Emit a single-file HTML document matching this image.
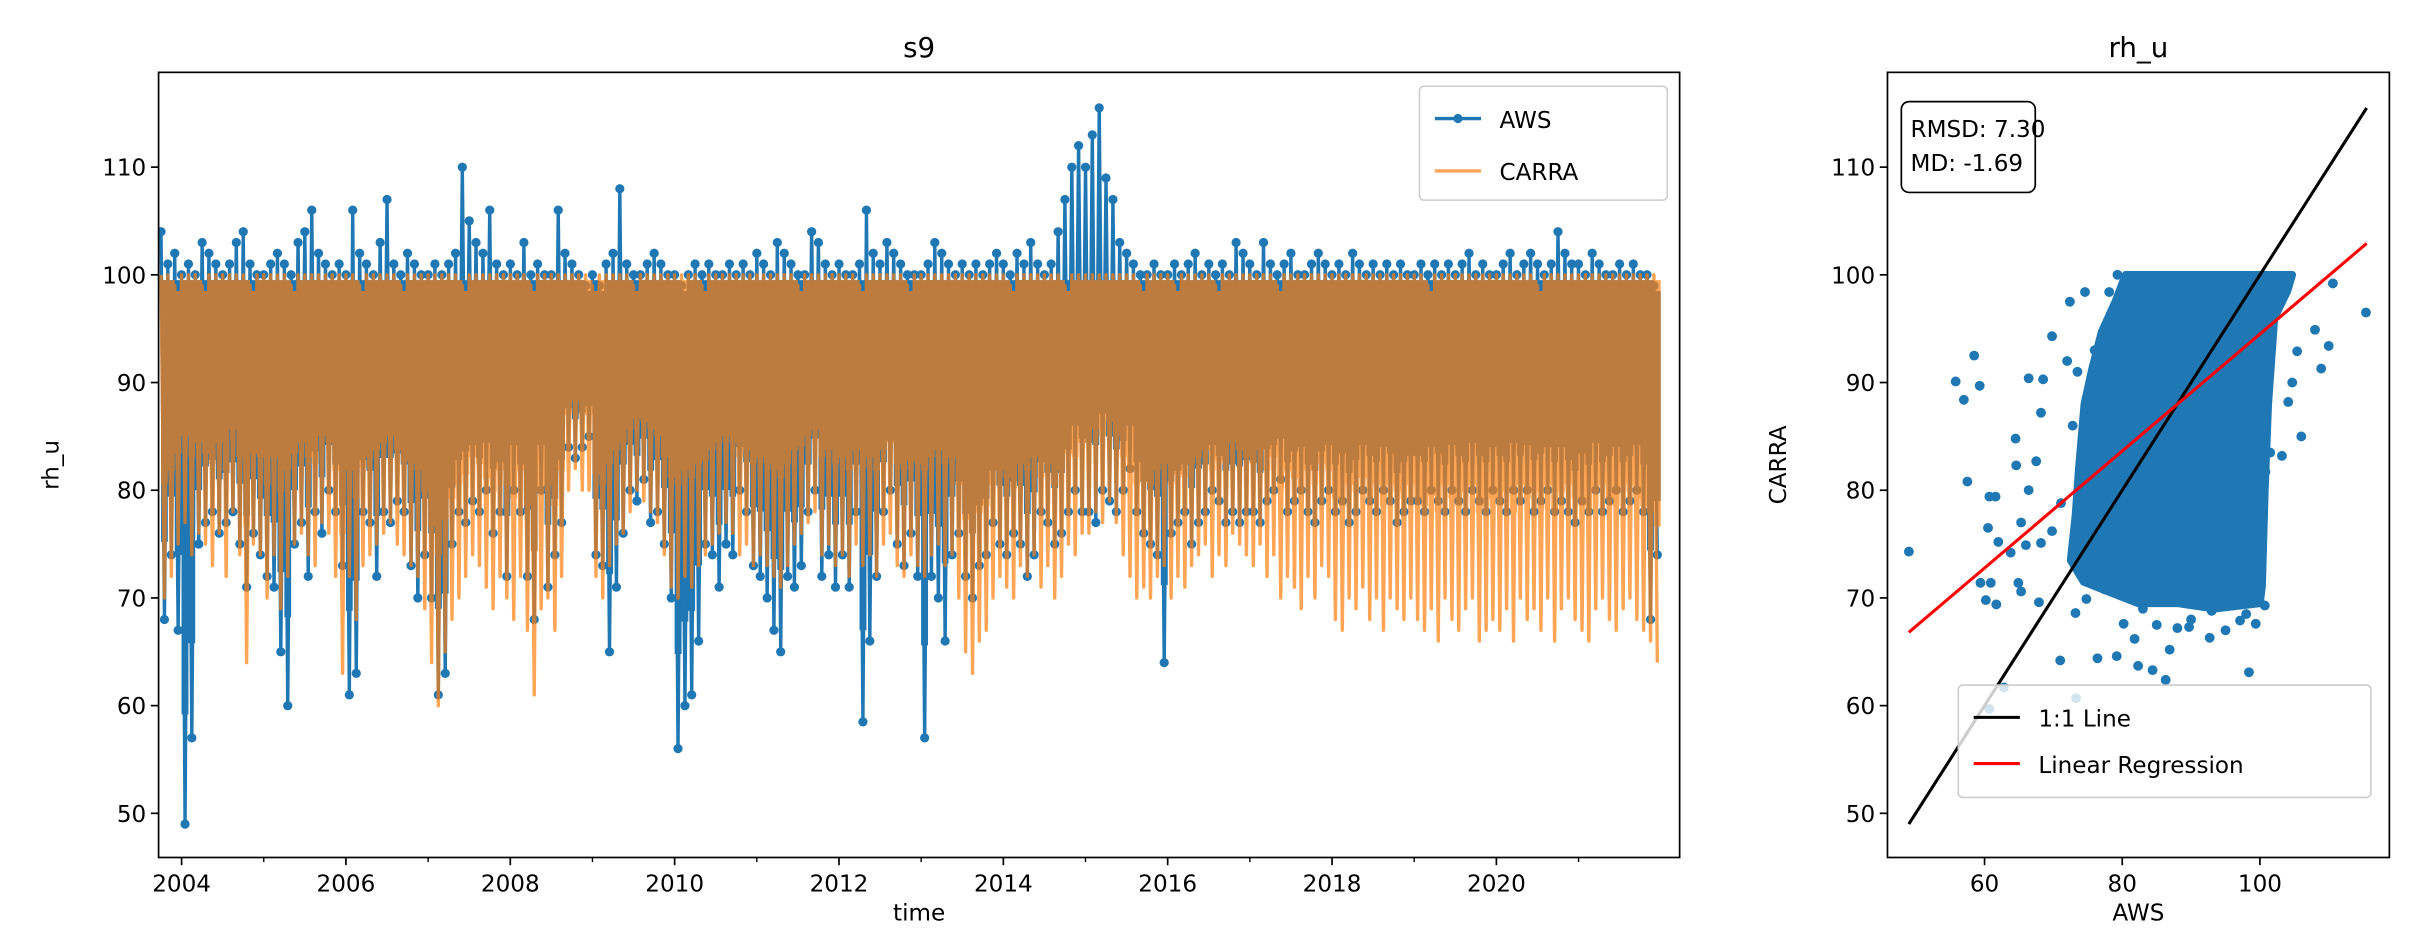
<!DOCTYPE html>
<html><head><meta charset="utf-8">
<style>
html,body{margin:0;padding:0;background:#fff;}
svg{display:block;font-family:"DejaVu Sans","Liberation Sans",sans-serif;}
</style></head>
<body>
<svg id="fig" width="2414" height="940" viewBox="0 0 1568 610.6" preserveAspectRatio="none" xmlns="http://www.w3.org/2000/svg">
<rect width="1568" height="611" fill="#fff"/>
<g id="left"></g>
<g id="right"></g>
</svg>
<script>
const years = [2003,2004,2005,2006,2007,2008,2009,2010,2011,2012,2013,2014,2015,2016,2017,2018,2019,2020,2021];
const startMonth = [10,1,1,1,1,1,1,1,1,1,1,1,1,1,1,1,1,1,1];
const awsHi = [
[104,101,102],
[100,101,100,103,102,101,100,101,103,104,101,100],
[100,101,102,101,100,103,104,106,102,101,100,101],
[100,106,102,101,100,103,107,101,100,102,101,100],
[100,101,100,101,102,110,105,103,102,106,101,100],
[101,100,103,100,101,100,100,106,102,101,100,99],
[100,99,101,102,108,101,100,100,101,102,101,100],
[100,99,100,101,100,101,100,100,101,100,101,100],
[102,101,100,103,102,101,100,100,104,103,101,100],
[101,100,100,101,106,102,101,103,102,101,100,100],
[100,101,103,102,101,100,101,100,101,100,101,102],
[101,100,102,101,103,101,100,101,104,107,110,112],
[110,113,115.5,109,107,103,102,101,100,100,101,100],
[100,101,100,101,102,100,101,100,101,100,103,102],
[101,100,103,101,100,101,102,100,100,101,102,101],
[100,101,100,102,101,100,101,100,101,100,101,100],
[100,101,100,101,100,101,100,101,102,100,101,100],
[100,101,102,100,101,102,101,100,101,104,102,101],
[101,100,102,101,100,100,101,100,101,100,100,99]];
const awsLo = [
[68,74,67],
[49,57,75,77,78,76,77,78,75,71,76,74],
[72,71,65,60,75,77,72,78,76,80,78,73],
[61,63,78,77,72,78,77,79,78,73,70,74],
[70,61,63,75,78,77,79,78,80,76,78,72],
[80,78,72,68,80,71,74,77,84,83,84,85],
[74,73,65,71,76,80,79,81,77,78,75,70],
[56,60,61,66,75,74,71,75,74,80,78,73],
[72,70,67,65,72,71,73,78,80,72,74,71],
[74,71,78,58.5,66,72,78,80,75,73,76,72],
[57,72,70,66,74,76,72,70,73,74,77,75],
[74,76,75,72,74,78,77,75,76,78,80,78],
[78,77,80,79,78,80,82,78,76,75,74,64],
[76,77,78,75,77,78,80,79,77,78,77,78],
[78,77,79,80,81,78,79,80,78,77,79,80],
[78,79,77,78,80,79,78,80,79,77,78,79],
[79,78,80,79,78,80,79,78,80,79,78,80],
[79,78,80,79,80,78,79,80,78,79,78,77],
[79,78,80,78,79,80,78,79,80,78,68,74]];
const carraHi = [
[100,100,99],
[100,100,100,99,100,100,100,100,100,100,99,100],
[100,100,100,100,99,100,100,100,100,100,100,100],
[100,100,99,100,100,100,100,100,99,100,100,100],
[100,100,100,100,100,99,100,100,100,100,100,100],
[100,100,100,99,100,100,100,100,100,100,100,100],
[99,100,100,100,100,100,99,100,100,100,100,100],
[100,100,100,100,99,100,100,100,100,100,100,100],
[100,100,100,100,100,100,99,100,100,100,100,100],
[100,100,100,99,100,100,100,100,100,100,99,100],
[100,100,100,100,100,100,100,100,100,100,100,100],
[100,99,100,100,100,100,100,100,100,99,100,100],
[100,100,100,100,100,100,100,100,99,100,100,100],
[100,99,100,100,100,100,100,99,100,100,100,100],
[100,100,100,100,99,100,100,100,100,100,100,100],
[100,100,100,100,100,100,100,100,100,100,100,100],
[100,100,99,100,100,100,100,100,100,100,100,100],
[100,100,100,100,100,100,99,100,100,100,100,100],
[100,100,100,100,100,100,100,100,100,100,100,100]];
const carraLo = [
[70,72,75],
[77,74,76,75,73,76,72,78,74,64,75,74],
[70,74,69,72,75,76,74,73,77,76,72,63],
[72,68,73,74,75,76,77,75,74,73,72,69],
[64,60,65,68,70,72,74,73,71,69,72,70],
[68,72,67,61,69,70,67,72,80,82,80,80],
[72,70,73,75,76,78,80,79,78,77,74,71],
[70,72,71,73,74,75,76,77,76,74,75,73],
[74,73,72,71,73,75,76,77,78,74,75,73],
[74,72,75,73,74,72,75,76,73,72,74,73],
[72,74,75,73,74,70,65,63,66,67,70,72],
[71,70,73,72,74,71,73,70,72,75,74,76],
[76,78,77,79,77,74,72,70,71,70,72,73],
[70,72,71,73,74,75,72,74,73,76,75,74],
[73,75,72,74,70,72,71,69,72,70,73,72],
[68,67,70,69,71,68,70,67,70,69,68,70],
[68,67,69,66,70,68,67,69,70,66,67,68],
[67,69,66,70,68,69,67,70,66,69,70,68],
[67,66,69,70,68,67,69,70,68,67,66,64]];
const yTicks = [50,60,70,80,90,100,110];
const xYearTicks = [2004,2006,2008,2010,2012,2014,2016,2018,2020];
const xMinorTicks = [2005,2007,2009,2011,2013,2015,2017,2019,2021];
const scatterAws = [49.0,55.8,58.5,57.0,59.3,57.5,60.5,60.7,61.6,59.4,60.9,60.2,61.7,62.8,60.7,62.0,63.8,64.5,64.6,65.3,64.9,65.3,66.4,66.4,66.0,68.2,68.5,69.8,67.5,68.2,67.9,71.0,73.3,76.4,73.2,72.4,74.6,78.1,79.3,69.8,71.1,115.4,110.6,110.0,108.9,106.0,108.0,103.2,101.5,100.8,98.4,86.3,84.4,82.3,81.8,86.9,92.7,80.2,79.2,89.7,100.7,99.4,97.1,96.1,74.8,77.4,104.7,105.4,104.1,72.0,73.5,72.8,74.0,75.5,76.0,85.0,90.0,95.0,98.0,83.0,88.0,93.0];
const scatterCarra = [74.3,90.1,92.5,88.4,89.7,80.8,76.5,79.4,79.4,71.4,71.4,69.8,69.4,61.7,59.7,75.2,74.2,84.8,82.3,77.0,71.4,70.6,90.4,80.0,74.9,87.2,90.3,94.3,82.7,75.1,69.6,64.2,60.7,64.4,68.6,97.5,98.4,98.4,100,76.2,78.8,96.5,99.2,93.4,91.3,85.0,94.9,83.2,83.5,81.7,63.1,62.4,63.3,63.7,66.2,65.2,66.3,67.6,64.6,67.3,69.3,67.6,67.9,69.3,69.9,70.8,90.0,92.9,88.2,92.0,91.0,86.0,82.0,79.0,93.0,67.5,68.0,67.0,68.5,69.0,67.2,68.8];
const coreAws = [80.5,104.7,104.0,102.1,101.2,100.7,100.3,100.0,93.4,88.1,82.3,78.3,74.4,72.5,73.2,73.7,74.5,75.6,77.0,79.0];
const coreCarra = [100,100,98.5,96.0,88.0,80,71.1,69.5,69.0,69.5,69.5,70.5,71.5,73.5,77.6,82.0,88.0,91.2,94.7,97.5];
const regSlope = 0.543, regIntercept = 40.2;
const oneToOneRange = [49.0,115.5];
const stats = {rmsd:"7.30", md:"-1.69"};

const NS="http://www.w3.org/2000/svg";
function mk(tag, attrs, parent){const e=document.createElementNS(NS,tag);for(const k in attrs)e.setAttribute(k,attrs[k]);parent.appendChild(e);return e;}
const L={x0:103,x1:1091,y0:47,y1:557}, R={x0:1226,x1:1552,y0:47,y1:557};
const yMin=45.9,yMax=118.8, tMin=2003.72,tMax=2022.23;
const yL=v=>L.y1-(v-yMin)/(yMax-yMin)*(L.y1-L.y0);
const xT=t=>L.x0+(t-tMin)/(tMax-tMin)*(L.x1-L.x0);
const yR=v=>R.y1-(v-yMin)/(yMax-yMin)*(R.y1-R.y0);
const xR=v=>R.x0+(v-yMin)/(yMax-yMin)*(R.x1-R.x0);
const FS=15;

const left=document.getElementById('left');
const right=document.getElementById('right');
const defs=mk('defs',{},document.getElementById('fig'));
const c1=mk('clipPath',{id:'cl'},defs);mk('rect',{x:L.x0,y:L.y0,width:L.x1-L.x0,height:L.y1-L.y0},c1);
const c2=mk('clipPath',{id:'cr'},defs);mk('rect',{x:R.x0,y:R.y0,width:R.x1-R.x0,height:R.y1-R.y0},c2);

function seriesPts(hi,lo){const p=[];years.forEach((y,i)=>{hi[i].forEach((h,j)=>{const t=y+(startMonth[i]-1+j)/12;p.push([t,h,lo[i][j]]);});});return p;}
const awsM=seriesPts(awsHi,awsLo), carraM=seriesPts(carraHi,carraLo);
function zig(m){const p=[];m.forEach(r=>{p.push([r[0],r[1]]);p.push([r[0]+1/24,r[2]]);});return p;}
function band(m,f){const top=[],bot=[];m.forEach(r=>{const tp=Math.min(r[1],100)-0.5;top.push(xT(r[0]).toFixed(1)+','+yL(tp).toFixed(1));top.push(xT(r[0]+1/12).toFixed(1)+','+yL(tp).toFixed(1));const core=r[2]+(r[1]-r[2])*f;bot.push(xT(r[0]).toFixed(1)+','+yL(core).toFixed(1));bot.push(xT(r[0]+1/12).toFixed(1)+','+yL(core).toFixed(1));});return top.concat(bot.reverse()).join(' ');}
const awsPts=zig(awsM), carraPts=zig(carraM);
const gL=mk('g',{'clip-path':'url(#cl)'},left);
const awsBand=mk('polygon',{points:band(awsM,0.2),fill:'#1f77b4'},gL);


const awsLine=mk('polyline',{points:awsPts.map(p=>xT(p[0]).toFixed(1)+','+yL(p[1]).toFixed(1)).join(' '),fill:'none',stroke:'#1f77b4','stroke-width':2.2,'stroke-linejoin':'round'},gL);


const mg=mk('g',{fill:'#1f77b4'},gL);


awsPts.forEach(p=>{mk('circle',{cx:xT(p[0]).toFixed(1),cy:yL(p[1]).toFixed(1),r:3},mg);});
const cg=mk('g',{opacity:0.7},gL);


const carraBand=mk('polygon',{points:band(carraM,0.35),fill:'#ff7f0e'},cg);


const carraLine=mk('polyline',{points:carraPts.map(p=>xT(p[0]).toFixed(1)+','+yL(p[1]).toFixed(1)).join(' '),fill:'none',stroke:'#ff7f0e','stroke-width':2.2,'stroke-linejoin':'round'},cg);



function frame(A,parent,name){const r=mk('rect',{x:A.x0,y:A.y0,width:A.x1-A.x0,height:A.y1-A.y0,fill:'none',stroke:'#000','stroke-width':1.1},parent);}
frame(L,left,'timeseries-axes-frame');
function text(s,x,y,parent,name,extra){const t=mk('text',Object.assign({x:x,y:y,'font-size':FS,fill:'#000'},extra||{}),parent);t.textContent=s;return t;}
yTicks.forEach(v=>{mk('line',{x1:L.x0-5,x2:L.x0,y1:yL(v),y2:yL(v),stroke:'#000','stroke-width':1.1},left);text(String(v),L.x0-8,yL(v)+5.5,left,'y-tick-label',{'text-anchor':'end'});});
xYearTicks.forEach(v=>{mk('line',{x1:xT(v),x2:xT(v),y1:L.y1,y2:L.y1+5,stroke:'#000','stroke-width':1.1},left);text(String(v),xT(v),L.y1+22,left,'x-tick-label',{'text-anchor':'middle'});});
xMinorTicks.forEach(v=>{mk('line',{x1:xT(v),x2:xT(v),y1:L.y1,y2:L.y1+3,stroke:'#000','stroke-width':0.9},left);});
text('s9',(L.x0+L.x1)/2,L.y0-10,left,'timeseries-title',{'text-anchor':'middle','font-size':18});
text('time',(L.x0+L.x1)/2,L.y1+41,left,'x-axis-title',{'text-anchor':'middle'});
text('rh_u',38,(L.y0+L.y1)/2,left,'y-axis-title',{'text-anchor':'middle',transform:'rotate(-90 38 '+((L.y0+L.y1)/2)+')'});
const lg=mk('g',{},left);


mk('rect',{x:922,y:56,width:161,height:74,rx:3,fill:'#fff','fill-opacity':0.8,stroke:'#ccc','stroke-width':1},lg);
mk('line',{x1:932,x2:962,y1:77,y2:77,stroke:'#1f77b4','stroke-width':2.2},lg);
mk('circle',{cx:947,cy:77,r:3,fill:'#1f77b4'},lg);
text('AWS',974,83,lg,'legend-entry-aws');
mk('line',{x1:932,x2:962,y1:111,y2:111,stroke:'#ff7f0e','stroke-opacity':0.7,'stroke-width':2.2},lg);
text('CARRA',974,117,lg,'legend-entry-carra');

const gR=mk('g',{'clip-path':'url(#cr)'},right);
const core=mk('polygon',{points:coreAws.map((a,i)=>xR(a).toFixed(1)+','+yR(coreCarra[i]).toFixed(1)).join(' '),fill:'#1f77b4',stroke:'#1f77b4','stroke-width':5,'stroke-linejoin':'round'},gR);


const sg=mk('g',{fill:'#1f77b4'},gR);


scatterAws.forEach((a,i)=>{mk('circle',{cx:xR(a).toFixed(1),cy:yR(scatterCarra[i]).toFixed(1),r:3.2},sg);});
const one=mk('line',{x1:xR(oneToOneRange[0]),y1:yR(oneToOneRange[0]),x2:xR(oneToOneRange[1]),y2:yR(oneToOneRange[1]),stroke:'#000','stroke-width':2},gR);


const reg=mk('line',{x1:xR(oneToOneRange[0]),y1:yR(regSlope*oneToOneRange[0]+regIntercept),x2:xR(oneToOneRange[1]),y2:yR(regSlope*oneToOneRange[1]+regIntercept),stroke:'#ff0000','stroke-width':2},gR);


frame(R,right,'scatter-axes-frame');
yTicks.forEach(v=>{mk('line',{x1:R.x0-5,x2:R.x0,y1:yR(v),y2:yR(v),stroke:'#000','stroke-width':1.1},right);text(String(v),R.x0-8,yR(v)+5.5,right,'y-tick-label',{'text-anchor':'end'});});
[60,80,100].forEach(v=>{mk('line',{x1:xR(v),x2:xR(v),y1:R.y1,y2:R.y1+5,stroke:'#000','stroke-width':1.1},right);text(String(v),xR(v),R.y1+22,right,'x-tick-label',{'text-anchor':'middle'});});
text('rh_u',(R.x0+R.x1)/2,R.y0-10,right,'scatter-title',{'text-anchor':'middle','font-size':18});
text('AWS',(R.x0+R.x1)/2,R.y1+41,right,'x-axis-title',{'text-anchor':'middle'});
text('CARRA',1160,(R.y0+R.y1)/2,right,'y-axis-title',{'text-anchor':'middle',transform:'rotate(-90 1160 '+((R.y0+R.y1)/2)+')'});
const sb=mk('g',{},right);


mk('rect',{x:1235,y:66,width:87,height:59,rx:5,fill:'#fff',stroke:'#000','stroke-width':1.1},sb);
text('RMSD: '+stats.rmsd,1241,89,sb,'rmsd-label');
text('MD: '+stats.md,1241,111,sb,'md-label');
const rl=mk('g',{},right);


mk('rect',{x:1272,y:445,width:268,height:73,rx:3,fill:'#fff','fill-opacity':0.8,stroke:'#ccc','stroke-width':1},rl);
mk('line',{x1:1282,x2:1312,y1:466,y2:466,stroke:'#000','stroke-width':2},rl);
text('1:1 Line',1324,472,rl,'legend-entry-one-to-one');
mk('line',{x1:1282,x2:1312,y1:496,y2:496,stroke:'#ff0000','stroke-width':2},rl);
text('Linear Regression',1324,502,rl,'legend-entry-regression');
</script>
</body></html>
